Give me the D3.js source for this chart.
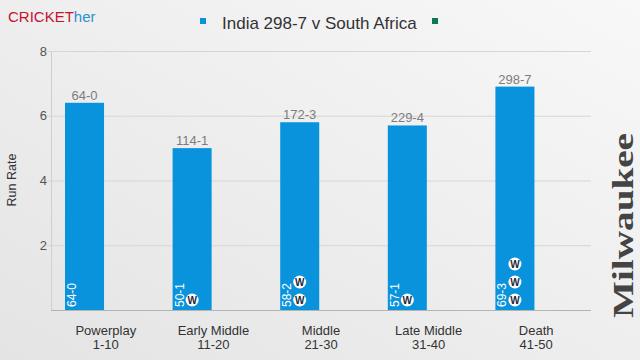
<!doctype html>
<html lang="en">
<head>
<meta charset="UTF-8">
<title>Run rate by phase</title>
<style>
  html, body { margin: 0; padding: 0; }
  body { width: 640px; height: 360px; overflow: hidden; }
  svg { display: block; font-family: "Liberation Sans", Arial, sans-serif; }
</style>
</head>
<body>
<svg id="chart" width="640" height="360"></svg>
<script src="https://cdn.jsdelivr.net/npm/d3@7"></script>
<script>
// data
var phases = ["Powerplay", "Early Middle", "Middle", "Late Middle", "Death"];
var overs = ["1-10", "11-20", "21-30", "31-40", "41-50"];
var series = ["India 298-7 v South Africa", "South Africa"];
var runRate = [6.4, 5.0, 5.8, 5.7, 6.9];
var totalScore = ["64-0", "114-1", "172-3", "229-4", "298-7"];
var phaseScore = ["64-0", "50-1", "58-2", "57-1", "69-3"];
var wickets = [0, 1, 2, 1, 3];
var yTicks = [2, 4, 6, 8];

var blue = "#0a93dd", green = "#0c7a50";

var svg = d3.select("#chart");

// background gradient
var defs = svg.append("defs");
var grad = defs.append("linearGradient").attr("id", "bg")
  .attr("x1", "0").attr("y1", "1").attr("x2", "1").attr("y2", "0");
grad.append("stop").attr("offset", "0%").attr("stop-color", "#e4e4e4");
grad.append("stop").attr("offset", "100%").attr("stop-color", "#f8f8f8");
svg.append("rect").attr("width", 640).attr("height", 360).attr("fill", "url(#bg)");

// scales
var x = d3.scaleBand().domain(phases).range([52, 590]);
var xs = d3.scaleBand().domain(series).range([13, 94]).paddingInner(0.07);
var y = d3.scaleLinear().domain([0, 8]).range([310, 51]);

// grid
svg.append("g").selectAll("line").data(yTicks).enter().append("line")
  .attr("x1", 47).attr("x2", 591)
  .attr("y1", function(d) { return y(d) + 0.5; })
  .attr("y2", function(d) { return y(d) + 0.5; })
  .attr("stroke", "#d6d6d6");

svg.append("line").attr("x1", 51.5).attr("x2", 51.5)
  .attr("y1", y(8)).attr("y2", y(0)).attr("stroke", "#cfcfcf");
svg.append("line").attr("x1", 51).attr("x2", 591)
  .attr("y1", y(0) + 0.5).attr("y2", y(0) + 0.5).attr("stroke", "#b4b4b4");

// y tick labels
svg.append("g").selectAll("text").data(yTicks).enter().append("text")
  .attr("x", 47).attr("y", function(d) { return y(d); })
  .attr("dy", "0.35em").attr("text-anchor", "end")
  .attr("font-size", 13).attr("fill", "#555")
  .text(function(d) { return d; });

svg.append("text")
  .attr("transform", "translate(16,180) rotate(-90)")
  .attr("text-anchor", "middle").attr("font-size", 12.5).attr("fill", "#333")
  .text("Run Rate");

// bars
var bw = xs.bandwidth();
var groups = svg.append("g").selectAll("g").data(phases).enter().append("g")
  .attr("transform", function(d) { return "translate(" + (x(d) + xs(series[0])) + ",0)"; });

groups.append("rect")
  .attr("x", 0).attr("width", bw)
  .attr("y", function(d, i) { return y(runRate[i]); })
  .attr("height", function(d, i) { return y(0) - y(runRate[i]); })
  .attr("fill", blue);

// total score above bar
groups.append("text")
  .attr("x", bw / 2).attr("y", function(d, i) { return y(runRate[i]) - 3; })
  .attr("text-anchor", "middle").attr("font-size", 13).attr("fill", "#7d7d7d")
  .text(function(d, i) { return totalScore[i]; });

// phase score inside, rotated
groups.append("text")
  .attr("transform", "translate(11," + (y(0) - 3) + ") rotate(-90)")
  .attr("font-size", 12).attr("fill", "#fff")
  .text(function(d, i) { return phaseScore[i]; });

// wicket markers
groups.each(function(d, i) {
  var g = d3.select(this);
  var w = g.selectAll("g.wk").data(d3.range(wickets[i])).enter().append("g")
    .attr("class", "wk")
    .attr("transform", function(k) { return "translate(" + (bw / 2) + "," + (y(0) - 10 - k * 18) + ")"; });
  w.append("circle").attr("r", 6.5).attr("fill", "#fff");
  w.append("text").attr("text-anchor", "middle").attr("dy", "0.36em")
    .attr("font-size", 10).attr("font-weight", "bold").attr("fill", "#1d2a38").text("W");
});

// category labels
var cat = svg.append("g").selectAll("text").data(phases).enter().append("text")
  .attr("x", function(d) { return x(d) + x.bandwidth() / 2; })
  .attr("text-anchor", "middle").attr("font-size", 13).attr("fill", "#333");
cat.append("tspan").attr("y", 335).text(function(d) { return d; });
cat.append("tspan").attr("y", 349)
  .attr("x", function(d) { return x(d) + x.bandwidth() / 2; })
  .text(function(d, i) { return overs[i]; });

// legend
svg.append("rect").attr("x", 200).attr("y", 18).attr("width", 6).attr("height", 6).attr("fill", blue);
svg.append("text").attr("x", 222).attr("y", 29).attr("font-size", 17).attr("fill", "#333")
  .text(series[0]);
svg.append("rect").attr("x", 432).attr("y", 18).attr("width", 6).attr("height", 6).attr("fill", green);

// brand
var brand = svg.append("text").attr("x", 8).attr("y", 22).attr("font-size", 15);
brand.append("tspan").attr("fill", "#c8102e").text("CRICKET");
brand.append("tspan").attr("fill", "#2e8fd0").text("her");

svg.append("text")
  .attr("transform", "translate(633,318) rotate(-90)")
  .attr("font-family", "'Liberation Serif', 'DejaVu Serif', serif")
  .attr("font-weight", "bold").attr("font-size", 29).attr("fill", "#444")
  .attr("textLength", 185).attr("lengthAdjust", "spacingAndGlyphs")
  .text("Milwaukee");
</script>
</body>
</html>
